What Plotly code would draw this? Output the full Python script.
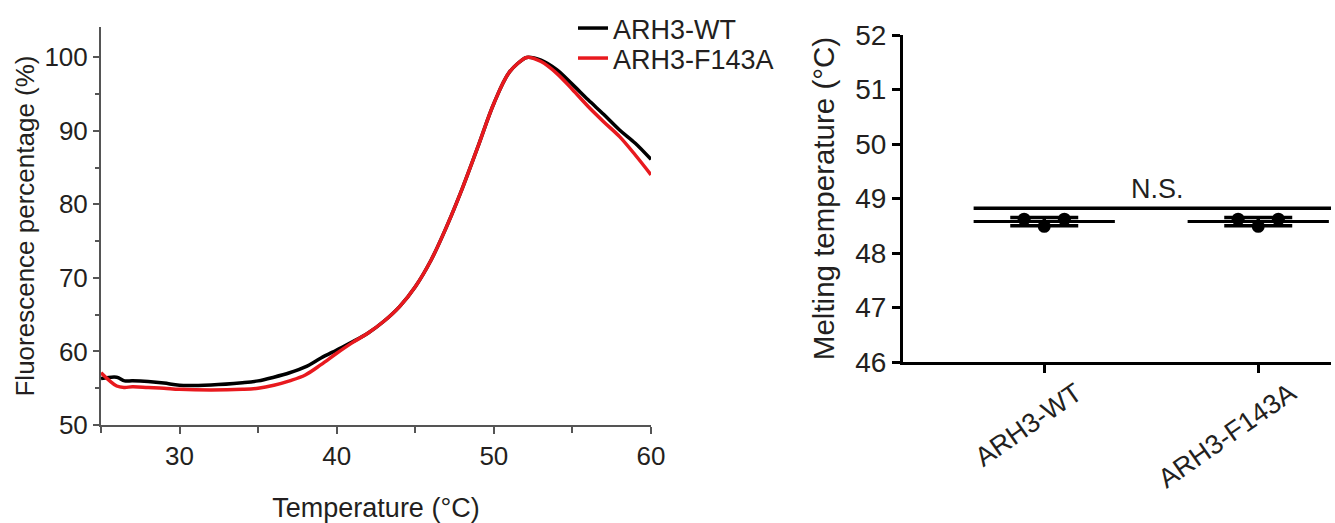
import plotly.graph_objects as go
import statistics as st

# ---- Left panel: melting curves ----
temp = [25, 26, 26.5, 27, 28, 29, 30, 32, 34, 35, 36, 37, 38, 39, 40, 41, 42, 43, 44, 45,
        46, 47, 48, 49, 50, 51, 52, 52.2, 53, 54, 55, 56, 57, 58, 59, 60]
wt = [56.3, 56.5, 56.0, 56.0, 55.9, 55.7, 55.4, 55.45, 55.75, 56.0, 56.5, 57.1, 57.9, 59.1, 60.2,
      61.3, 62.5, 64.1, 66.1, 68.8, 72.4, 77.0, 82.2, 87.9, 93.7, 98.0, 99.9, 100.0, 99.6, 98.3,
      96.3, 94.2, 92.2, 90.1, 88.3, 86.1]
f143a = [57.1, 55.3, 55.1, 55.2, 55.1, 55.0, 54.85, 54.76, 54.85, 55.0, 55.4, 56.0, 56.8, 58.2, 59.75,
         61.2, 62.5, 64.1, 66.1, 68.8, 72.4, 77.0, 82.2, 87.9, 93.7, 98.0, 99.9, 100.0, 99.4, 97.8,
         95.6, 93.3, 91.2, 89.2, 86.7, 84.0]

# ---- Right panel: melting temperatures ----
groups = ["ARH3-WT", "ARH3-F143A"]
tm_wt = [48.62, 48.49, 48.62]
tm_f143a = [48.62, 48.49, 48.62]
jitter = [-0.094, 0.0, 0.094]
ns_y = 48.82
ns_x = [-0.33, 1.34]

FONT = "Liberation Sans, Arial, sans-serif"
TXT = "#231f20"
W, H = 1335, 523

def px(x):
    return x / W

def py(y):
    return (H - y) / H

fig = go.Figure()

fig.add_trace(go.Scatter(x=temp, y=wt, mode="lines", name="ARH3-WT", legend="legend",
                         line=dict(color="#000000", width=3.5, shape="spline"),
                         xaxis="x", yaxis="y"))
fig.add_trace(go.Scatter(x=temp, y=f143a, mode="lines", name="ARH3-F143A", legend="legend2",
                         line=dict(color="#e8191e", width=3.5, shape="spline"),
                         xaxis="x", yaxis="y"))

for i, vals in enumerate([tm_wt, tm_f143a]):
    m = st.mean(vals)
    sd = st.stdev(vals)
    fig.add_trace(go.Scatter(x=[i - 0.33, i + 0.33], y=[m, m], mode="lines",
                             line=dict(color="black", width=3), showlegend=False,
                             xaxis="x2", yaxis="y2", hoverinfo="skip"))
    fig.add_trace(go.Scatter(x=[i], y=[m], mode="markers", marker=dict(size=1, color="black"),
                             error_y=dict(type="data", array=[sd], visible=True,
                                          color="black", thickness=3.5, width=34),
                             showlegend=False, xaxis="x2", yaxis="y2", hoverinfo="skip"))
    fig.add_trace(go.Scatter(x=[i + j for j in jitter], y=vals, mode="markers",
                             marker=dict(size=13, color="black"), showlegend=False,
                             xaxis="x2", yaxis="y2"))

fig.add_trace(go.Scatter(x=ns_x, y=[ns_y, ns_y], mode="lines",
                         line=dict(color="black", width=3.5), showlegend=False,
                         xaxis="x2", yaxis="y2", hoverinfo="skip"))

fig.add_annotation(x=0.53, y=ns_y + 0.04, xref="x2", yref="y2", text="N.S.",
                   showarrow=False, yanchor="bottom",
                   font=dict(family=FONT, size=27, color=TXT))

AX = "#555555"
leg_common = dict(xanchor="left", yanchor="top", font=dict(family=FONT, size=27, color=TXT),
                  bgcolor="rgba(0,0,0,0)", itemwidth=30)
fig.update_layout(
    width=W, height=H,
    margin=dict(l=0, r=0, t=0, b=0),
    paper_bgcolor="white", plot_bgcolor="white",
    font=dict(family=FONT, color=TXT, size=20),
    showlegend=True,
    legend=dict(x=px(573), y=py(4), **leg_common),
    legend2=dict(x=px(573), y=py(34), **leg_common),
    xaxis=dict(domain=[px(101), px(651)], range=[25, 60], tickvals=[30, 40, 50, 60],
               showgrid=False, zeroline=False, showline=True, linecolor=AX, linewidth=2,
               ticks="outside", ticklen=7, tickwidth=2, tickcolor=AX,
               minor=dict(tickvals=[25, 35, 45, 55], ticks="outside", ticklen=6,
                          tickwidth=2, tickcolor=AX),
               tickfont=dict(size=26, color=TXT),
               title=dict(text="Temperature (°C)", font=dict(size=27, color=TXT), standoff=33),
               anchor="y", automargin=False),
    yaxis=dict(domain=[py(425), py(27)], range=[50, 104.1], tickvals=[50, 60, 70, 80, 90, 100],
               showgrid=False, zeroline=False, showline=True, linecolor=AX, linewidth=2,
               ticks="outside", ticklen=6, tickwidth=2, tickcolor=AX,
               minor=dict(tickvals=[55, 65, 75, 85, 95], ticks="outside", ticklen=4,
                          tickwidth=2, tickcolor=AX),
               tickfont=dict(size=26, color=TXT),
               title=dict(text="Fluorescence percentage (%)", font=dict(size=26, color=TXT), standoff=2),
               anchor="x", automargin=False),
    xaxis2=dict(domain=[px(903), px(1331)], range=[-0.66, 1.34], tickvals=[0, 1], ticktext=groups,
                showgrid=False, zeroline=False, showline=True, linecolor="black", linewidth=3,
                ticks="outside", ticklen=8, tickwidth=3, tickcolor="black", tickangle=-35,
                ticklabelshift=32, ticklabelstandoff=-6,
                tickfont=dict(size=27, color=TXT), anchor="y2", automargin=False),
    yaxis2=dict(domain=[py(362), py(35)], range=[46, 52], dtick=1,
                showgrid=False, zeroline=False, showline=True, linecolor="black", linewidth=3,
                ticks="outside", ticklen=8, tickwidth=3, tickcolor="black",
                tickfont=dict(size=28, color=TXT),
                title=dict(text="Melting temperature (°C)", font=dict(size=29.5, color=TXT), standoff=12),
                anchor="x2", automargin=False),
)

fig.write_html("out.html", config={"displayModeBar": False},
               post_script="document.body.style.margin='0';document.body.style.overflow='hidden';")
